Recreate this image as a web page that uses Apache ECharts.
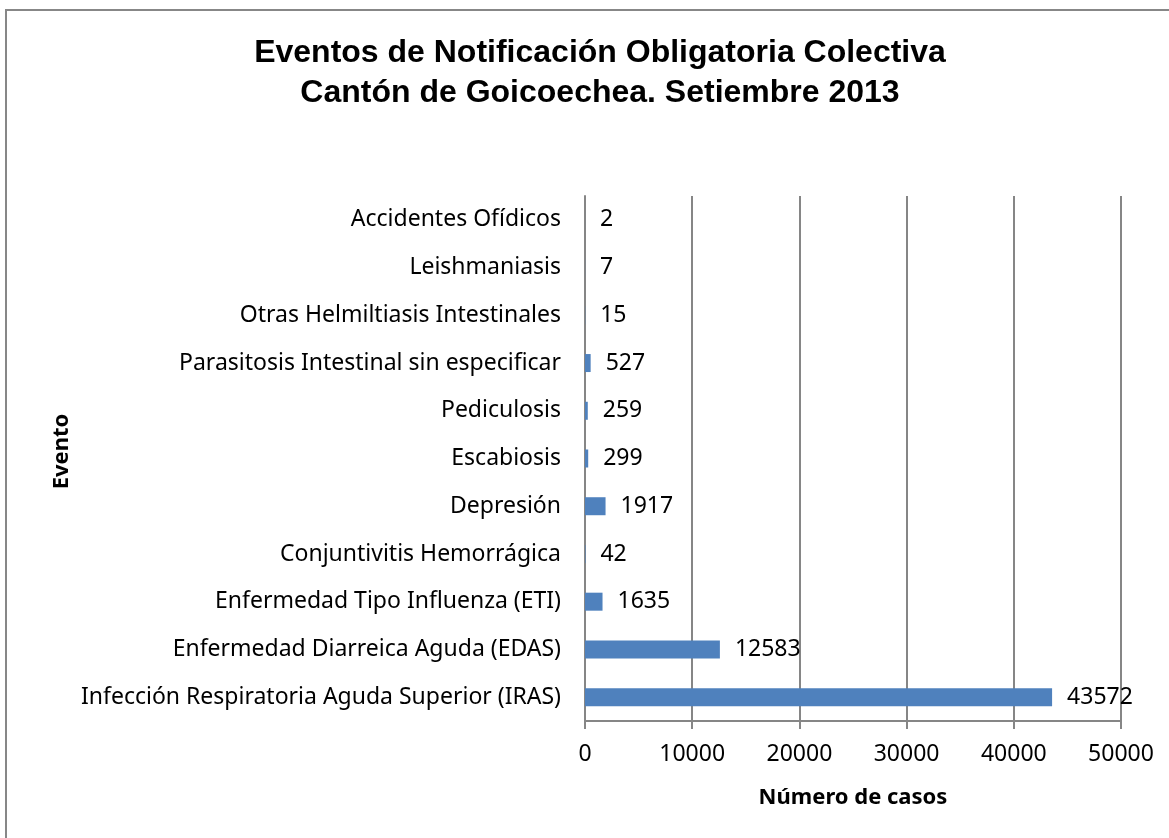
<!DOCTYPE html>
<html lang="es">
<head>
    <meta charset="UTF-8">
    <title>Eventos de Notificación Obligatoria Colectiva</title>
    <style>
        html, body { margin: 0; padding: 0; background: #fff; }
    </style>
</head>
<body>
    <div id="main" style="width: 1169px;height:838px;"></div>
    <script src="https://cdn.jsdelivr.net/npm/echarts@6/dist/echarts.min.js"></script>
    <script>
        // categorias de abajo hacia arriba (como en el eje)
        var eventos = [
            'Infección Respiratoria Aguda Superior (IRAS)',
            'Enfermedad Diarreica Aguda (EDAS)',
            'Enfermedad Tipo Influenza (ETI)',
            'Conjuntivitis Hemorrágica',
            'Depresión',
            'Escabiosis',
            'Pediculosis',
            'Parasitosis Intestinal sin especificar',
            'Otras Helmiltiasis Intestinales',
            'Leishmaniasis',
            'Accidentes Ofídicos'
        ];
        var casos = [43572, 12583, 1635, 42, 1917, 299, 259, 527, 15, 7, 2];
        var ejeX = [0, 10000, 20000, 30000, 40000, 50000];

        var fuente = 'Noto Sans';
        var myChart = echarts.init(document.getElementById('main'));
        myChart.setOption({
            animation: false,
            title: {
                text: 'Eventos de Notificación Obligatoria Colectiva\nCantón de Goicoechea. Setiembre 2013',
                left: 595,
                top: 28,
                textAlign: 'center',
                textStyle: {
                    fontFamily: 'Liberation Sans',
                    fontWeight: 'bold',
                    fontSize: 32,
                    lineHeight: 40,
                    color: '#000'
                }
            },
            graphic: [{
                type: 'rect',
                shape: { x: 6, y: 10, width: 1250, height: 900 },
                style: { fill: 'none', stroke: '#878787', lineWidth: 2 }
            }],
            grid: {
                left: 585,
                right: 48,
                top: 196,
                bottom: 117
            },
            xAxis: {
                type: 'value',
                min: ejeX[0],
                max: ejeX[ejeX.length - 1],
                interval: 10000,
                name: 'Número de casos',
                nameLocation: 'middle',
                nameGap: 66,
                nameTextStyle: {
                    fontFamily: fuente,
                    fontWeight: 'bold',
                    fontSize: 22,
                    color: '#000'
                },
                axisLine: { show: true, lineStyle: { color: '#868686', width: 2 } },
                axisTick: { show: true, length: 8, lineStyle: { color: '#868686', width: 2 } },
                axisLabel: {
                    fontFamily: fuente,
                    fontSize: 23,
                    color: '#000',
                    margin: 22,
                    formatter: function (v) { return String(v); }
                },
                splitLine: { show: true, lineStyle: { color: '#868686', width: 2 } }
            },
            yAxis: {
                type: 'category',
                data: eventos,
                name: 'Evento',
                nameLocation: 'middle',
                nameGap: 512,
                nameRotate: 90,
                nameTextStyle: {
                    fontFamily: fuente,
                    fontWeight: 'bold',
                    fontSize: 22,
                    color: '#000',
                    padding: [0, 0, 0, 14]
                },
                axisLine: { show: true, lineStyle: { color: '#868686', width: 2 } },
                axisTick: { show: false },
                axisLabel: {
                    fontFamily: fuente,
                    fontSize: 23,
                    color: '#000',
                    margin: 24
                }
            },
            series: [{
                name: 'Casos',
                type: 'bar',
                data: casos,
                barWidth: 18,
                itemStyle: { color: '#4F81BD' },
                label: {
                    show: true,
                    position: 'right',
                    distance: 15,
                    fontFamily: fuente,
                    fontSize: 23,
                    color: '#000'
                }
            }]
        });
    </script>
</body>
</html>
